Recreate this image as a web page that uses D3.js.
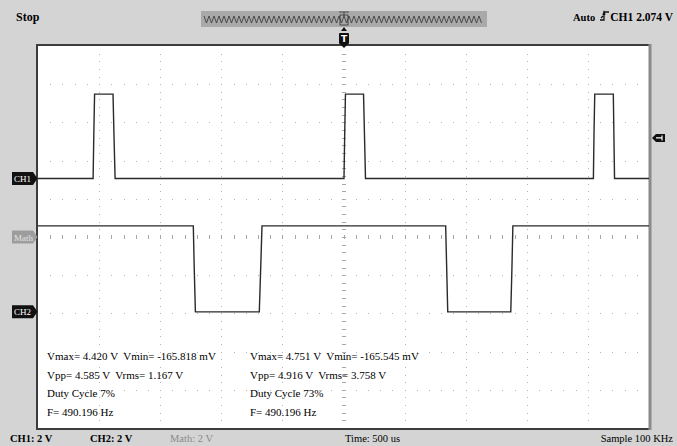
<!DOCTYPE html>
<html>
<head>
<meta charset="utf-8">
<script src="https://cdn.jsdelivr.net/npm/d3@7"></script>
<style>
  body { margin: 0; background: #d4d4d4; }
  svg { display: block; font-family: "Liberation Serif", "Times New Roman", serif; }
  text { white-space: pre; }
</style>
</head>
<body>
<svg id="scope" width="677" height="446"></svg>
<script>
// channel traces (time in us, level in volts)
var ch1Time = [-2500, -2049, -2043, -2037, -1886, -1878, -1869, 4, 10, 16, 164, 172, 180, 2045, 2050, 2056, 2208, 2213, 2218, 2500];
var ch1Volts = [0, 0, 2.4, 4.42, 4.42, 2.2, 0, 0, 2.4, 4.42, 4.42, 2.2, 0, 0, 2.4, 4.42, 4.42, 2.2, 0, 0];
var ch2Time = [-2500, -1229, -1222, -1212, -689, -678, -667, 836, 844, 853, 1369, 1378, 1386, 2500];
var ch2Volts = [4.5, 4.5, 2.4, 0, 0, 2.2, 4.5, 4.5, 2.4, 0, 0, 2.2, 4.5, 4.5];

// channel settings
var voltsPerDiv = 2;
var ch1Offset = 1.53;   // divisions above centre
var ch2Offset = -1.96;
var mathOffset = 0;
var trigLevel = 2.074;

// measurement readouts
var ch1Readout = ["Vmax= 4.420 V  Vmin= -165.818 mV", "Vpp= 4.585 V  Vrms= 1.167 V", "Duty Cycle 7%", "F= 490.196 Hz"];
var ch2Readout = ["Vmax= 4.751 V  Vmin= -165.545 mV", "Vpp= 4.916 V  Vrms= 3.758 V", "Duty Cycle 73%", "F= 490.196 Hz"];

var svg = d3.select('#scope');

var scrLeft = 38, scrRight = 649, scrTop = 46, scrBottom = 428;
var x = d3.scaleLinear().domain([-2500, 2500]).range([scrLeft, scrRight]);
var y = d3.scaleLinear().domain([-5, 5]).range([scrBottom, scrTop]);
var divX = (scrRight - scrLeft) / 10, divY = (scrBottom - scrTop) / 10;

// screen
svg.append('rect')
    .attr('x', scrLeft - 1).attr('y', scrTop - 1)
    .attr('width', scrRight - scrLeft + 2).attr('height', scrBottom - scrTop + 2)
    .attr('fill', '#fff');

// dotted graticule
var grid = svg.append('g').attr('fill', '#b4b4b4');
d3.range(1, 10).forEach(function (i) {
    var gx = Math.round(scrLeft + i * divX);
    d3.range(1, 50).forEach(function (j) {
        var gy = Math.round(scrTop + j * divY / 5);
        if (i === 5) {
            grid.append('rect').attr('x', gx - 2).attr('y', gy).attr('width', 4).attr('height', 1).attr('fill', '#a8a8a8');
        } else {
            grid.append('rect').attr('x', gx).attr('y', gy).attr('width', 1).attr('height', 1);
        }
    });
});
d3.range(1, 10).forEach(function (j) {
    var gy = Math.round(scrTop + j * divY);
    d3.range(1, 50).forEach(function (i) {
        var gx = Math.round(scrLeft + i * divX / 5);
        if (j === 5) {
            grid.append('rect').attr('x', gx).attr('y', gy - 2).attr('width', 1).attr('height', 4).attr('fill', '#a8a8a8');
        } else {
            grid.append('rect').attr('x', gx).attr('y', gy).attr('width', 1).attr('height', 1);
        }
    });
});

// screen border
svg.append('path')
    .attr('d', 'M' + (scrRight + 1) + ',' + (scrTop - 1) + 'H' + (scrLeft - 1) + 'V' + (scrBottom + 1) + 'H' + (scrRight + 1))
    .attr('fill', 'none').attr('stroke', '#3c3c3c').attr('stroke-width', 2);
svg.append('line')
    .attr('x1', scrRight + 1).attr('x2', scrRight + 1).attr('y1', scrTop - 2).attr('y2', scrBottom + 2)
    .attr('stroke', '#8a8a8a').attr('stroke-width', 3);

// traces
function trace(times, volts, offset) {
    var line = d3.line()
        .x(function (d, i) { return x(times[i]); })
        .y(function (d) { return y(offset + d / voltsPerDiv); });
    svg.append('path')
        .datum(volts)
        .attr('d', line)
        .attr('fill', 'none')
        .attr('stroke', '#2a2a2a')
        .attr('stroke-width', 1.4);
}
trace(ch1Time, ch1Volts, ch1Offset);
trace(ch2Time, ch2Volts, ch2Offset);

// channel markers on the left
function marker(label, offset, fill, color) {
    var cy = y(offset);
    var g = svg.append('g');
    g.append('path')
        .attr('d', 'M12,' + (cy - 6.5) + 'H33L37.5,' + cy + 'L33,' + (cy + 6.5) + 'H12Z')
        .attr('fill', fill);
    g.append('text')
        .attr('x', 14).attr('y', cy + 3.5)
        .attr('font-size', 9).attr('fill', color)
        .text(label);
}
marker('CH1', ch1Offset, '#111', '#fff');
marker('Math', mathOffset, '#9d9d9d', '#e4e4e4');
marker('CH2', ch2Offset, '#111', '#fff');

// trigger level marker on the right
var ty = y(ch1Offset + trigLevel / voltsPerDiv) - 1;
svg.append('path')
    .attr('d', 'M652,' + ty + 'L656,' + (ty - 4) + 'H665V' + (ty + 4) + 'H656Z')
    .attr('fill', '#111');
svg.append('path')
    .attr('d', 'M656,' + ty + 'H662M662,' + (ty - 2.5) + 'V' + (ty + 2.5))
    .attr('stroke', '#fff').attr('stroke-width', 1.2);

// header: record bar with zigzag
svg.append('rect').attr('x', 201).attr('y', 11).attr('width', 286).attr('height', 16).attr('fill', '#a9a9a9');
var zig = [];
for (var zx = 204; zx < 484; zx += 5) { zig.push([zx, 16]); zig.push([zx + 2.5, 23]); }
svg.append('path').attr('d', d3.line()(zig)).attr('fill', 'none').attr('stroke', '#333').attr('stroke-width', 0.8);
svg.append('rect').attr('x', 340).attr('y', 15).attr('width', 8).attr('height', 10)
    .attr('fill', 'none').attr('stroke', '#333').attr('stroke-width', 0.8);
svg.append('path').attr('d', 'M339,12H349M344,12V16').attr('stroke', '#333').attr('stroke-width', 0.8);
svg.append('path').attr('d', 'M341,31L344,27L347,31Z').attr('fill', '#111');

// trigger position marker
svg.append('rect').attr('x', 339).attr('y', 33).attr('width', 10).attr('height', 11).attr('rx', 1).attr('fill', '#111');
svg.append('path').attr('d', 'M340,44H348L344,48Z').attr('fill', '#111');
svg.append('text').attr('x', 344).attr('y', 42).attr('text-anchor', 'middle')
    .attr('font-family', 'DejaVu Sans').attr('font-size', 9).attr('font-weight', 'bold').attr('fill', '#fff').text('T');

svg.append('text').attr('x', 16).attr('y', 21).attr('font-size', 12).attr('font-weight', 'bold').text('Stop');
svg.append('text').attr('x', 573).attr('y', 21).attr('font-size', 10.5).attr('font-weight', 'bold').text('Auto');
svg.append('path').attr('d', 'M600,20H604V12H609M603,15L604,12L605,15M601,18L603,16')
    .attr('fill', 'none').attr('stroke', '#111').attr('stroke-width', 1.3);
svg.append('text').attr('x', 673).attr('y', 21).attr('text-anchor', 'end')
    .attr('font-size', 11.5).attr('font-weight', 'bold').text('CH1 2.074 V');

// measurement readouts
var rowY = [360, 379, 397, 416];
ch1Readout.forEach(function (t, i) {
    svg.append('text').attr('x', 47).attr('y', rowY[i]).attr('font-size', 11).text(t);
});
ch2Readout.forEach(function (t, i) {
    svg.append('text').attr('x', 250).attr('y', rowY[i]).attr('font-size', 11).text(t);
});

// footer
svg.append('text').attr('x', 10).attr('y', 442).attr('font-size', 10.5).attr('font-weight', 'bold').text('CH1: 2 V');
svg.append('text').attr('x', 90).attr('y', 442).attr('font-size', 10.5).attr('font-weight', 'bold').text('CH2: 2 V');
svg.append('text').attr('x', 170).attr('y', 442).attr('font-size', 10.5).attr('fill', '#8a8a8a').text('Math: 2 V');
svg.append('text').attr('x', 345).attr('y', 442).attr('font-size', 10.5).text('Time: 500 us');
svg.append('text').attr('x', 673).attr('y', 442).attr('text-anchor', 'end').attr('font-size', 10.5).text('Sample 100 KHz');
</script>
</body>
</html>
